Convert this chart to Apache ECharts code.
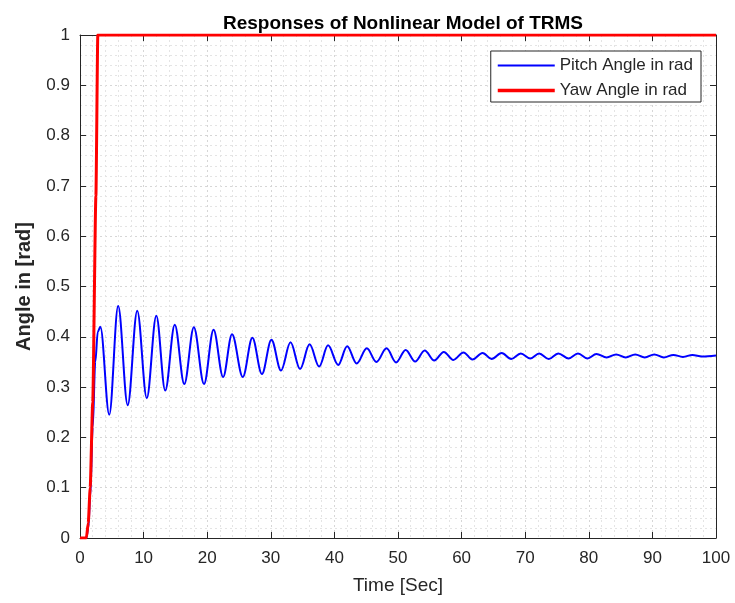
<!DOCTYPE html>
<html>
<head>
<meta charset="utf-8">
<script src="https://cdn.jsdelivr.net/npm/echarts@6/dist/echarts.min.js"></script>
<style>
  html, body { margin: 0; padding: 0; background: #fff; }
  #chart { width: 735px; height: 603px; }
</style>
</head>
<body>
<div id="chart"></div>
<script>
// yaw angle (red) - step-like rise
const yawTime = [0, 1.0, 1.3, 1.6, 2.0, 2.5, 2.8, 100]
const yawVal = [0, 0, 0.03, 0.1, 0.27, 0.68, 1, 1]

// pitch angle (blue) - rise then damped oscillation
const pitchTime = [0, 1.0, 1.3, 1.6, 2.0, 2.4, 2.8, 3.2,
  4.6, 6.0, 7.5, 9.0, 10.5, 12.0, 13.4, 14.9, 16.4, 17.9, 19.5, 21.0,
  22.5, 23.9, 25.6, 27.1, 28.6, 30.1, 31.6, 33.1, 34.6, 36.1, 37.6, 39.0,
  40.6, 42.0, 43.5, 45.1, 46.6, 48.2, 49.7, 51.2, 52.7, 54.2, 55.7, 57.2,
  58.7, 60.3, 61.7, 63.3, 64.7, 66.3, 67.8, 69.3, 70.8, 72.2, 73.7, 75.2,
  76.8, 78.3, 79.8, 81.2, 82.8, 84.3, 85.8, 87.3, 88.8, 90.3, 91.8, 93.3,
  94.8, 96.3, 97.8, 100]
const pitchVal = [0, 0, 0.02, 0.08, 0.22, 0.35, 0.41, 0.42,
  0.245, 0.461, 0.264, 0.452, 0.278, 0.442, 0.293, 0.424, 0.306, 0.419, 0.306, 0.414,
  0.320, 0.405, 0.320, 0.398, 0.326, 0.394, 0.333, 0.389, 0.336, 0.385, 0.341, 0.383,
  0.344, 0.381, 0.347, 0.377, 0.350, 0.377, 0.349, 0.374, 0.351, 0.373, 0.353, 0.370,
  0.354, 0.369, 0.355, 0.368, 0.356, 0.368, 0.356, 0.367, 0.357, 0.367, 0.356, 0.367,
  0.357, 0.367, 0.357, 0.366, 0.359, 0.365, 0.359, 0.365, 0.359, 0.365, 0.359, 0.364,
  0.360, 0.364, 0.361, 0.363]

const xTicks = [0, 10, 20, 30, 40, 50, 60, 70, 80, 90, 100]
const yTicks = [0, 0.1, 0.2, 0.3, 0.4, 0.5, 0.6, 0.7, 0.8, 0.9, 1]

const font = 'Liberation Sans, Arial, sans-serif'
const axisColor = '#262626'

const zip = (a, b) => a.map((v, i) => [v, b[i]])

const gridLine = { show: true, lineStyle: { color: '#d6d6d6', type: [2, 3], width: 1 } }
const minorLine = { show: true, lineStyle: { color: '#e4e4e4', type: [2, 3], width: 1 } }

function xAxis(pos, labels) {
  return {
    type: 'value', position: pos, min: xTicks[0], max: xTicks[xTicks.length - 1], interval: 10,
    axisLine: { show: true, onZero: false, lineStyle: { color: axisColor, width: 1 } },
    axisTick: { show: true, inside: true, length: 6, lineStyle: { color: axisColor } },
    axisLabel: { show: labels, color: axisColor, fontFamily: font, fontSize: 17, margin: 12 },
    splitLine: labels ? gridLine : { show: false },
    minorTick: { show: false, splitNumber: 5 },
    minorSplitLine: labels ? minorLine : { show: false },
    name: labels ? 'Time [Sec]' : '', nameLocation: 'middle', nameGap: 38,
    nameTextStyle: { color: axisColor, fontFamily: font, fontSize: 19 }
  }
}

function yAxis(pos, labels) {
  return {
    type: 'value', position: pos, min: yTicks[0], max: yTicks[yTicks.length - 1], interval: 0.1,
    axisLine: { show: true, onZero: false, lineStyle: { color: axisColor, width: 1 } },
    axisTick: { show: true, inside: true, length: 6, lineStyle: { color: axisColor } },
    axisLabel: { show: labels, color: axisColor, fontFamily: font, fontSize: 17, margin: 10,
      formatter: v => String(Math.round(v * 10) / 10) },
    splitLine: labels ? gridLine : { show: false },
    minorTick: { show: false, splitNumber: 5 },
    minorSplitLine: labels ? minorLine : { show: false },
    name: labels ? 'Angle in [rad]' : '', nameLocation: 'middle', nameGap: 46,
    nameTextStyle: { color: axisColor, fontFamily: font, fontSize: 20, fontWeight: 'bold' }
  }
}

let myChart = echarts.init(document.getElementById('chart'))
let option = {
  backgroundColor: '#fff',
  animation: false,
  title: {
    text: 'Responses of Nonlinear Model of TRMS',
    left: 398, top: 9, textAlign: 'center',
    textStyle: { color: '#000', fontFamily: font, fontSize: 19, fontWeight: 'bold' }
  },
  grid: { left: 80, right: 19, top: 35, bottom: 65 },
  legend: {
    right: 34, top: 51, orient: 'vertical',
    backgroundColor: '#fff', borderColor: '#262626', borderWidth: 1, borderRadius: 0,
    padding: [6, 8, 3, 7], itemGap: 8, itemWidth: 57, itemHeight: 14,
    symbolKeepAspect: true,
    textStyle: { color: axisColor, fontFamily: font, fontSize: 17 },
    data: [
      { name: 'Pitch Angle in rad', icon: 'path://M0,0H57V2H0Z' },
      { name: 'Yaw Angle in rad', icon: 'path://M0,0H57V3.5H0Z' }
    ]
  },
  xAxis: [xAxis('bottom', true), xAxis('top', false)],
  yAxis: [yAxis('left', true), yAxis('right', false)],
  series: [
    {
      name: 'Pitch Angle in rad', type: 'line', data: zip(pitchTime, pitchVal),
      symbol: 'none', smooth: 0.35, smoothMonotone: 'x',
      lineStyle: { color: '#0000ff', width: 2 }, itemStyle: { color: '#0000ff' }, z: 3
    },
    {
      name: 'Yaw Angle in rad', type: 'line', data: zip(yawTime, yawVal),
      symbol: 'none', smooth: 0.2, smoothMonotone: 'x',
      lineStyle: { color: '#ff0000', width: 3 }, itemStyle: { color: '#ff0000' }, z: 4
    }
  ]
}
myChart.setOption(option)
</script>
</body>
</html>
